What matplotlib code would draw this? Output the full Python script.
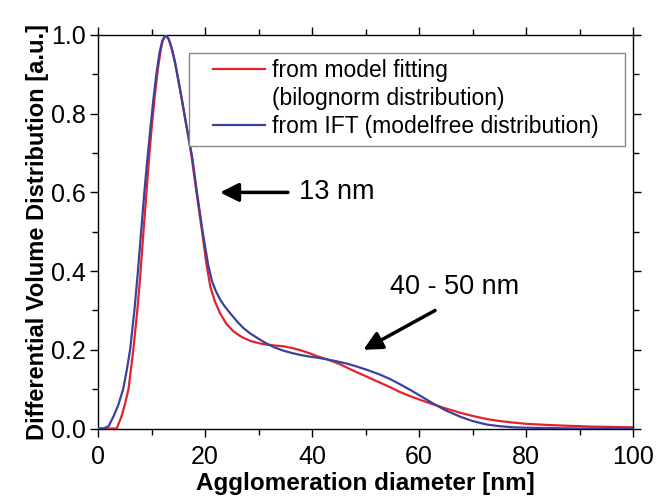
import matplotlib
matplotlib.use("Agg")
import matplotlib.pyplot as plt
from matplotlib.lines import Line2D
from matplotlib.patches import Rectangle
from matplotlib.ticker import MultipleLocator

plt.rcParams['font.family'] = ['Liberation Sans', 'DejaVu Sans']

# red curve: bilognorm model fit
fit_x = [0, 3, 3.5, 4.4, 5.0, 5.7, 6.6, 7.35, 7.85, 8.5, 9.0, 9.5, 10.0, 10.65, 11.2,
         11.7, 12.1, 12.6, 13.2, 13.8, 14.4, 15.0, 15.6, 16.3, 16.9, 17.5, 18.4, 19.4,
         20.3, 21.0, 21.8, 22.8, 24.0, 25.3, 26.8, 28.4, 30.0, 31.5, 33.0, 34.6, 36.2,
         37.8, 39.4, 40.9, 42.5, 44.0, 45.6, 47.1, 48.7, 50.2, 51.8, 53.3, 54.9, 56.4,
         58.0, 60.0, 62.7, 65.0, 67.7, 70.0, 72.7, 75.0, 77.7, 80.0, 84.0, 87.7, 92.0,
         96.0, 100.0]
fit_y = [0, 0, 0, 0.031, 0.06, 0.10, 0.20, 0.30, 0.38, 0.50, 0.59, 0.68, 0.76, 0.85, 0.915,
         0.96, 0.985, 1.0, 0.99, 0.965, 0.93, 0.885, 0.84, 0.785, 0.74, 0.69, 0.60, 0.505,
         0.415, 0.36, 0.325, 0.293, 0.266, 0.247, 0.233, 0.223, 0.217, 0.213, 0.211, 0.209,
         0.205, 0.199, 0.192, 0.184, 0.177, 0.170, 0.161, 0.151, 0.141, 0.132, 0.122, 0.113,
         0.103, 0.093, 0.084, 0.074, 0.061, 0.051, 0.040, 0.032, 0.024, 0.019, 0.015,
         0.012, 0.009, 0.007, 0.005, 0.004, 0.003]

# blue curve: model-free IFT result
ift_x = [0, 1.0, 2.0, 2.9, 3.8, 4.7, 5.4, 6.0, 6.8, 7.4, 8.0, 8.66, 9.2, 9.7, 10.3,
         10.9, 11.5, 12.0, 12.6, 13.2, 13.8, 14.4, 15.1, 15.7, 16.4, 17.0, 17.6, 18.5,
         19.5, 20.6, 21.3, 22.0, 22.8, 23.7, 24.7, 26.0, 27.2, 28.4, 30.0, 31.5, 33.0,
         34.6, 36.2, 37.8, 39.4, 41.0, 42.7, 44.5, 46.5, 48.5, 50.5, 52.7, 54.7, 56.5,
         58.5, 60.5, 62.7, 65.0, 67.7, 70.0, 72.7, 75.0, 77.7, 80.0, 85.0, 90.0, 100.0]
ift_y = [0, 0, 0.006, 0.031, 0.06, 0.10, 0.15, 0.20, 0.30, 0.39, 0.49, 0.60, 0.68, 0.75, 0.83,
         0.90, 0.955, 0.985, 1.0, 0.99, 0.965, 0.93, 0.88, 0.835, 0.78, 0.735, 0.69, 0.60,
         0.505, 0.415, 0.375, 0.35, 0.328, 0.31, 0.293, 0.272, 0.255, 0.242, 0.228, 0.216,
         0.206, 0.198, 0.192, 0.187, 0.183, 0.180, 0.176, 0.171, 0.165, 0.157, 0.148, 0.137,
         0.125, 0.112, 0.097, 0.081, 0.063, 0.046, 0.030, 0.019, 0.010, 0.006, 0.003,
         0.002, 0.001, 0, 0]

red = '#e2232e'
blue = '#3c419c'

fig = plt.figure(figsize=(6.56, 4.97), dpi=100)
ax = fig.add_axes([0.1494, 0.1378, 0.8156, 0.7918])

ax.plot(fit_x, fit_y, color=red, lw=1.6, zorder=3)
ax.plot(ift_x, ift_y, color=blue, lw=1.6, zorder=4)

ax.set_xlim(0, 100)
ax.set_ylim(0, 1.0)
ax.xaxis.set_major_locator(MultipleLocator(20))
ax.xaxis.set_minor_locator(MultipleLocator(10))
ax.yaxis.set_major_locator(MultipleLocator(0.2))
ax.yaxis.set_minor_locator(MultipleLocator(0.1))
ax.yaxis.set_major_formatter(plt.FuncFormatter(lambda v, p: f"{v:.1f}"))
ax.tick_params(which='both', direction='out', top=True, right=True, width=1.0, labelsize=18)
ax.tick_params(axis='x', pad=6)
ax.tick_params(axis='y', pad=3)
ax.tick_params(which='major', length=6)
ax.tick_params(which='minor', length=4)
for s in ax.spines.values():
    s.set_linewidth(1.0)

ax.set_xlabel("Agglomeration diameter [nm]", fontsize=17.5, fontweight='bold', labelpad=2)
ax.set_ylabel("Differential Volume Distribution [a.u.]", fontsize=17, fontweight='bold', labelpad=1)

# legend frame drawn separately (wide side padding as in the original)
ax.add_patch(Rectangle((0.170, 0.718), 0.815, 0.236, transform=ax.transAxes,
                       facecolor='white', edgecolor='#888888', lw=1.0, zorder=5))
handles = [Line2D([], [], color=red, lw=1.6),
           Line2D([], [], color='none'),
           Line2D([], [], color=blue, lw=1.6)]
labels = ["from model fitting", "(bilognorm distribution)", "from IFT (modelfree distribution)"]
leg = ax.legend(handles, labels, loc='upper left', bbox_to_anchor=(0.215, 0.938),
                fontsize=16.5, frameon=False, handlelength=2.27, handletextpad=0.3,
                labelspacing=0.22, borderpad=0, borderaxespad=0)
leg.set_zorder(6)

arrow = dict(arrowstyle='-|>', color='black', lw=2.5, mutation_scale=28, shrinkA=0, shrinkB=0)
ax.annotate("", xy=(22.8, 0.6), xytext=(35.5, 0.6), arrowprops=arrow)
ax.text(37.5, 0.6, "13 nm", fontsize=19.5, va='center', ha='left')
ax.annotate("", xy=(49.6, 0.2), xytext=(63.0, 0.30), arrowprops=arrow)
ax.text(66.7, 0.36, "40 - 50 nm", fontsize=19.5, va='center', ha='center')

fig.savefig("out.png", dpi=100)
